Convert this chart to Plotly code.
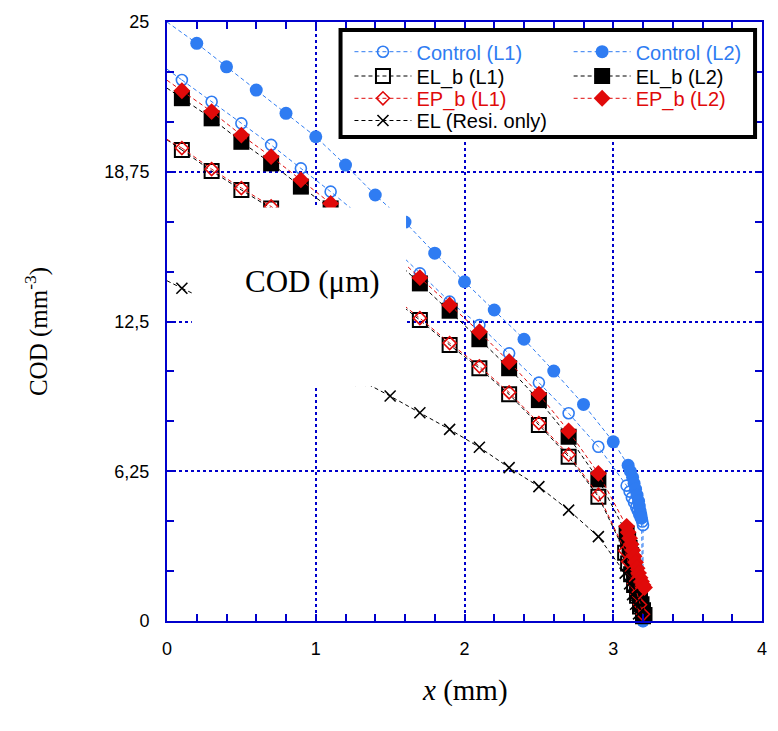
import plotly.graph_objects as go

# ---------------- data ----------------
odd_x = [0.1, 0.3, 0.5, 0.7, 0.9, 1.1, 1.3, 1.5, 1.7, 1.9, 2.1, 2.3, 2.5, 2.7, 2.9]
even_x = [0.2, 0.4, 0.6, 0.8, 1.0, 1.2, 1.4, 1.6, 1.8, 2.0, 2.2, 2.4, 2.6, 2.8, 3.0]

# Control (L1)
ctrl_l1_x = odd_x + [3.09, 3.11, 3.125, 3.14, 3.155, 3.165, 3.175, 3.185, 3.195, 3.2, 3.2]
ctrl_l1_y = [22.58, 21.67, 20.77, 19.87, 18.89, 17.92, 16.90, 15.70, 14.51, 13.33, 12.35,
             11.17, 9.95, 8.67, 7.27,
             5.65, 5.40, 5.15, 4.95, 4.75, 4.60, 4.45, 4.30, 4.15, 4.00, 0.0]
ctrl_l1_y0 = 23.03

# Control (L2)
ctrl_l2_x = even_x + [3.10, 3.115, 3.13, 3.14, 3.15, 3.16, 3.17, 3.175, 3.18, 3.185, 3.19, 3.2]
ctrl_l2_y = [24.11, 23.13, 22.16, 21.19, 20.21, 19.03, 17.78, 16.65, 15.35, 14.16, 12.98,
             11.76, 10.43, 9.04, 7.48,
             6.50, 6.25, 6.00, 5.75, 5.50, 5.25, 5.00, 4.80, 4.60, 4.45, 4.30, 0.0]
ctrl_l2_y0 = 25.0

# EL_b (L1)
elb_l1_x = odd_x + [3.08, 3.10, 3.12, 3.14, 3.16, 3.18, 3.20]
elb_l1_y = [19.66, 18.78, 17.99, 17.22, 16.35, 15.45, 14.50, 13.55, 12.56, 11.52, 10.55,
            9.46, 8.18, 6.86, 5.19,
            2.85, 2.40, 1.95, 1.50, 1.05, 0.60, 0.20]
elb_l1_y0 = 20.08

# EL_b (L2)
elb_l2_x = odd_x + [3.09, 3.10, 3.11, 3.12, 3.13, 3.14, 3.15, 3.16, 3.17, 3.18, 3.19, 3.20, 3.21]
elb_l2_y = [21.82, 20.98, 20.00, 19.10, 18.13, 17.22, 16.30, 15.25, 14.09, 12.95, 11.76,
            10.55, 9.22, 7.69, 5.91,
            3.65, 3.35, 3.05, 2.75, 2.45, 2.15, 1.85, 1.55, 1.25, 0.95, 0.70, 0.45, 0.25]
elb_l2_y0 = 22.24

# EP_b (L1)
epb_l1_x = odd_x + [3.08, 3.10, 3.12, 3.14, 3.16, 3.18, 3.20]
epb_l1_y = [19.74, 18.86, 18.07, 17.30, 16.43, 15.53, 14.58, 13.63, 12.64, 11.60, 10.63,
            9.54, 8.26, 6.94, 5.27,
            2.93, 2.48, 2.03, 1.58, 1.13, 0.68, 0.28]
epb_l1_y0 = 20.10

# EP_b (L2)
epb_l2_x = odd_x + [3.09, 3.10, 3.11, 3.12, 3.13, 3.14, 3.15, 3.16, 3.17, 3.18, 3.19, 3.20, 3.21]
epb_l2_y = [22.13, 21.26, 20.28, 19.38, 18.41, 17.43, 16.50, 15.45, 14.33, 13.19, 12.07,
            10.82, 9.47, 7.93, 6.16,
            3.95, 3.70, 3.45, 3.20, 2.95, 2.70, 2.45, 2.20, 2.00, 1.80, 1.65, 1.50, 1.40]
epb_l2_y0 = 22.57

# EL (Resi. only)
el_x = odd_x + [3.08, 3.11, 3.13, 3.15, 3.17]
el_y = [13.89, 13.30, 12.70, 12.05, 11.40, 10.75, 10.05, 9.39, 8.69, 8.00, 7.25,
        6.40, 5.61, 4.63, 3.52,
        2.00, 1.55, 1.10, 0.70, 0.30]
el_y0 = 14.2

x_tick_vals = [0, 1, 2, 3, 4]
x_tick_text = ["0", "1", "2", "3", "4"]
y_tick_vals = [0, 6.25, 12.5, 18.75, 25]
y_tick_text = ["0", "6,25", "12,5", "18,75", "25"]

# blanked inset region (data coordinates) and its label
inset_x = [0.167, 1.607]
inset_y = [9.81, 17.26]
inset_label = "COD (μm)"
inset_label_pos = (0.98, 14.19)

# ---------------- styling ----------------
BLUE = "#2F7CF2"
RED = "#E00A0A"
BLACK = "#000000"
AXIS_BLUE = "#0000CC"
SANS = "Liberation Sans, Arial, sans-serif"
SERIF = "Liberation Serif, Times New Roman, serif"
DASH = "4px,3px"

series = [
    # name, x, y, y0, color, symbol, size, marker line width, legend id
    ("Control (L1)", ctrl_l1_x, ctrl_l1_y, ctrl_l1_y0, BLUE, "circle-open", 11, 1.6, "legend"),
    ("Control (L2)", ctrl_l2_x, ctrl_l2_y, ctrl_l2_y0, BLUE, "circle", 13, 0, "legend5"),
    ("EL_b (L1)", elb_l1_x, elb_l1_y, elb_l1_y0, BLACK, "square-open", 14, 2, "legend2"),
    ("EL_b (L2)", elb_l2_x, elb_l2_y, elb_l2_y0, BLACK, "square", 16, 0, "legend6"),
    ("EP_b (L1)", epb_l1_x, epb_l1_y, epb_l1_y0, RED, "diamond-open", 10, 1.6, "legend3"),
    ("EP_b (L2)", epb_l2_x, epb_l2_y, epb_l2_y0, RED, "diamond", 13, 0, "legend7"),
    ("EL (Resi. only)", el_x, el_y, el_y0, BLACK, "x-thin-open", 11, 1.6, "legend4"),
]

fig = go.Figure()

for name, xs, ys, y0, col, sym, size, mlw, leg in series:
    # leading segment of the dashed line toward x = 0
    fig.add_trace(go.Scatter(
        x=[0, xs[0]], y=[y0, ys[0]], mode="lines",
        line=dict(color=col, width=1, dash=DASH),
        showlegend=False, hoverinfo="skip"))
    mk = dict(symbol=sym, size=size, color=col)
    if mlw:
        mk["line"] = dict(color=col, width=mlw)
    fig.add_trace(go.Scatter(
        x=xs, y=ys, mode="lines+markers",
        name=f'<span style="color:{col}">{name}</span>',
        line=dict(color=col, width=1, dash=DASH),
        marker=mk, cliponaxis=False, legend=leg))

# ---------------- layout ----------------
W, H = 778, 731
ML, MR, MT, MB = 167, 11, 22, 110
PW = W - ML - MR
PH = H - MT - MB


def px_to_paper_x(px):
    return (px - ML) / PW


def px_to_paper_y(py):
    return (H - MB - py) / PH


row_py = [51.7, 76.0, 98.3, 120.5]
left_px, right_px = 351, 572

legends = {}
left_rows = ["legend", "legend2", "legend3", "legend4"]
right_rows = ["legend5", "legend6", "legend7"]
for i, key in enumerate(left_rows):
    legends[key] = (px_to_paper_x(left_px), px_to_paper_y(row_py[i]))
for i, key in enumerate(right_rows):
    legends[key] = (px_to_paper_x(right_px), px_to_paper_y(row_py[i]))

legend_layout = {}
for key, (lx, ly) in legends.items():
    legend_layout[key] = dict(
        x=lx, y=ly, xanchor="left", yanchor="middle",
        bgcolor="rgba(0,0,0,0)", borderwidth=0,
        font=dict(family=SANS, size=20, color="black"),
        itemwidth=57, tracegroupgap=0, traceorder="normal")

axis_common = dict(
    showline=True, linecolor=AXIS_BLUE, linewidth=2, mirror="ticks",
    ticks="inside", ticklen=7, tickwidth=1.5, tickcolor=AXIS_BLUE,
    showgrid=True, gridcolor=AXIS_BLUE, gridwidth=1.5, griddash="dot",
    zeroline=False, tickfont=dict(family=SANS, size=18, color="black"),
)

fig.update_layout(
    width=W, height=H,
    margin=dict(l=ML, r=MR, t=MT, b=MB),
    paper_bgcolor="white", plot_bgcolor="white",
    xaxis=dict(range=[0, 4], tickmode="array", tickvals=x_tick_vals, ticktext=x_tick_text,
               ticklabelstandoff=10,
               minor=dict(ticks="inside", dtick=0.2, tick0=0, ticklen=7,
                          tickcolor=AXIS_BLUE, tickwidth=1.5, showgrid=False),
               **axis_common),
    yaxis=dict(range=[0, 25], tickmode="array", tickvals=y_tick_vals, ticktext=y_tick_text,
               ticklabelstandoff=12,
               minor=dict(ticks="inside", dtick=25 / 12, tick0=0, ticklen=7,
                          tickcolor=AXIS_BLUE, tickwidth=1.5, showgrid=False),
               **axis_common),
    showlegend=True,
    **legend_layout,
)

# blank inset region
fig.add_shape(type="rect", xref="x", yref="y",
              x0=inset_x[0], x1=inset_x[1], y0=inset_y[0], y1=inset_y[1],
              fillcolor="white", line=dict(width=0), layer="above")
fig.add_annotation(x=inset_label_pos[0], y=inset_label_pos[1], xref="x", yref="y",
                   text=inset_label, showarrow=False,
                   font=dict(family=SERIF, size=31, color="black"))

# legend frame
fig.add_shape(type="rect", xref="paper", yref="paper",
              x0=px_to_paper_x(342), x1=px_to_paper_x(760),
              y0=px_to_paper_y(137), y1=px_to_paper_y(30),
              fillcolor="white", line=dict(color="black", width=4), layer="above")

# axis titles
fig.add_annotation(x=0.5, y=px_to_paper_y(690), xref="paper", yref="paper",
                   text="<i>x</i> (mm)", showarrow=False, yanchor="middle",
                   font=dict(family=SERIF, size=29, color="black"))
fig.add_annotation(x=px_to_paper_x(36), y=px_to_paper_y(332), xref="paper", yref="paper",
                   text="COD (mm<sup>-3</sup>)", showarrow=False, textangle=-90,
                   xanchor="center", yanchor="middle",
                   font=dict(family=SERIF, size=25, color="black"))

fig.write_html("out.html")
